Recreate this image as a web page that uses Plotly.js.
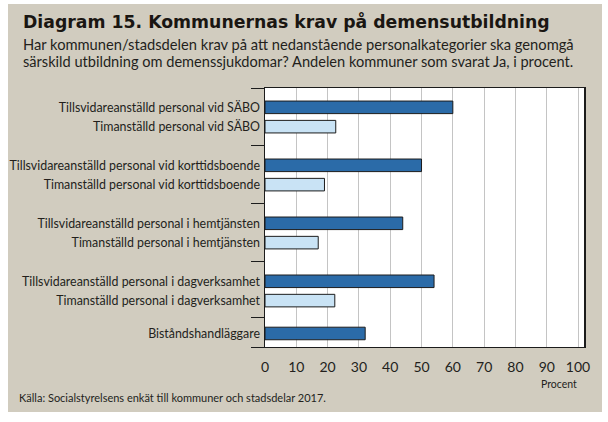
<!DOCTYPE html>
<html><head><meta charset="utf-8">
<script src="https://cdn.plot.ly/plotly-3.0.1.min.js"></script>
<style>
html,body{margin:0;padding:0;background:#fff;width:608px;height:422px;overflow:hidden;}
#chart{position:absolute;left:8px;top:4px;width:594px;height:408px;}
</style></head><body>
<div id="chart"></div>
<script>
// ---- data ----
const categories = [
  "Tillsvidareanställd personal vid SÄBO",
  "Timanställd personal vid SÄBO",
  "Tillsvidareanställd personal vid korttidsboende",
  "Timanställd personal vid korttidsboende",
  "Tillsvidareanställd personal i hemtjänsten",
  "Timanställd personal i hemtjänsten",
  "Tillsvidareanställd personal i dagverksamhet",
  "Timanställd personal i dagverksamhet",
  "Biståndshandläggare"
];
const values = [60, 22.6, 50, 19, 44, 17, 54, 22.3, 32];
const staffType = ["fast","tim","fast","tim","fast","tim","fast","tim","fast"];
const group = [0,0,1,1,2,2,3,3,4];
const xTicks = [0,10,20,30,40,50,60,70,80,90,100];

// ---- layout helpers ----
const W = 594, H = 408;
const M = {l:257, r:18, t:84, b:65};
const PW = W - M.l - M.r, PH = H - M.t - M.b;
const px = x => (x - 8 - M.l) / PW;          // page x -> paper
const py = y => 1 - (y - 4 - M.t) / PH;      // page y -> paper

const groupGap = [0, 1, 1, 1, 0.7];
const pos = [];
let cur = 0;
for (let i = 0; i < categories.length; i++) {
  if (i > 0 && group[i] !== group[i-1]) cur += 1 + groupGap[group[i]];
  else if (i > 0) cur += 1;
  pos.push(cur);
}
const yTop = -1, yBot = pos[pos.length-1] + 0.7;
const sep = [yTop];
for (let i = 1; i < pos.length; i++) if (group[i] !== group[i-1]) sep.push((pos[i] + pos[i-1]) / 2);
sep.push(yBot);

const colorMap = {fast: "#2b6ba8", tim: "#c9e3f5"};
const FONT = "Lato, 'Open Sans', sans-serif";
const TXT = "#231f1c";

const trace = {
  type: "bar", orientation: "h",
  x: values, y: pos, width: 0.65,
  marker: {color: staffType.map(t => colorMap[t]), line: {color: "#1c1c1c", width: 1}},
  hoverinfo: "x", showlegend: false
};
const labelTrace = {
  type: "scatter", mode: "markers", x: [null], y: [null], yaxis: "y2",
  showlegend: false, hoverinfo: "skip"
};

const layout = {
  width: W, height: H,
  margin: M,
  paper_bgcolor: "#d1ccbf",
  plot_bgcolor: "#ffffff",
  font: {family: FONT, color: TXT, size: 12},
  xaxis: {
    range: [0, 101.9], tickvals: xTicks, ticktext: xTicks.map(String),
    showgrid: true, gridcolor: "#c4c4c4", gridwidth: 1,
    zeroline: false, showline: true, mirror: true, linecolor: "#1c1c1c", linewidth: 1,
    ticks: "", tickfont: {size: 14, family: FONT, color: TXT}, ticklabelstandoff: 7,
    fixedrange: true
  },
  yaxis: {
    range: [yBot, yTop], tickvals: sep, showticklabels: false,
    ticks: "outside", ticklen: 13, tickwidth: 1, tickcolor: "#1c1c1c",
    showgrid: false, zeroline: false, showline: true, mirror: true,
    linecolor: "#1c1c1c", linewidth: 1.5, fixedrange: true
  },
  yaxis2: {
    overlaying: "y", side: "left", range: [yBot, yTop],
    tickvals: pos, ticktext: categories, ticks: "",
    showgrid: false, zeroline: false, showline: false,
    tickfont: {size: 12.4, family: FONT, color: TXT}, ticklabelstandoff: 4,
    fixedrange: true
  },
  annotations: [
    {text: "<b>Diagram 15. Kommunernas krav på demensutbildning</b>", xref: "paper", yref: "paper",
     x: px(21), y: py(21), xanchor: "left", yanchor: "middle", showarrow: false,
     font: {size: 17.3, family: "'DejaVu Sans', sans-serif", color: "#1a1612"}},
    {text: "Har kommunen/stadsdelen krav på att nedanstående personalkategorier ska genomgå", xref: "paper", yref: "paper",
     x: px(21), y: py(44), xanchor: "left", yanchor: "middle", showarrow: false,
     font: {size: 14.7, family: FONT, color: TXT}},
    {text: "särskild utbildning om demenssjukdomar? Andelen kommuner som svarat Ja, i procent.", xref: "paper", yref: "paper",
     x: px(21), y: py(61), xanchor: "left", yanchor: "middle", showarrow: false,
     font: {size: 14.6, family: FONT, color: TXT}},
    {text: "Procent", xref: "paper", yref: "paper",
     x: px(579), y: py(384), xanchor: "right", yanchor: "middle", showarrow: false,
     font: {size: 10.5, family: FONT, color: TXT}},
    {text: "Källa: Socialstyrelsens enkät till kommuner och stadsdelar 2017.", xref: "paper", yref: "paper",
     x: px(17), y: py(397), xanchor: "left", yanchor: "middle", showarrow: false,
     font: {size: 11, family: FONT, color: TXT}}
  ]
};

Plotly.newPlot("chart", [trace, labelTrace], layout, {displayModeBar: false, staticPlot: true});
</script>
</body></html>
